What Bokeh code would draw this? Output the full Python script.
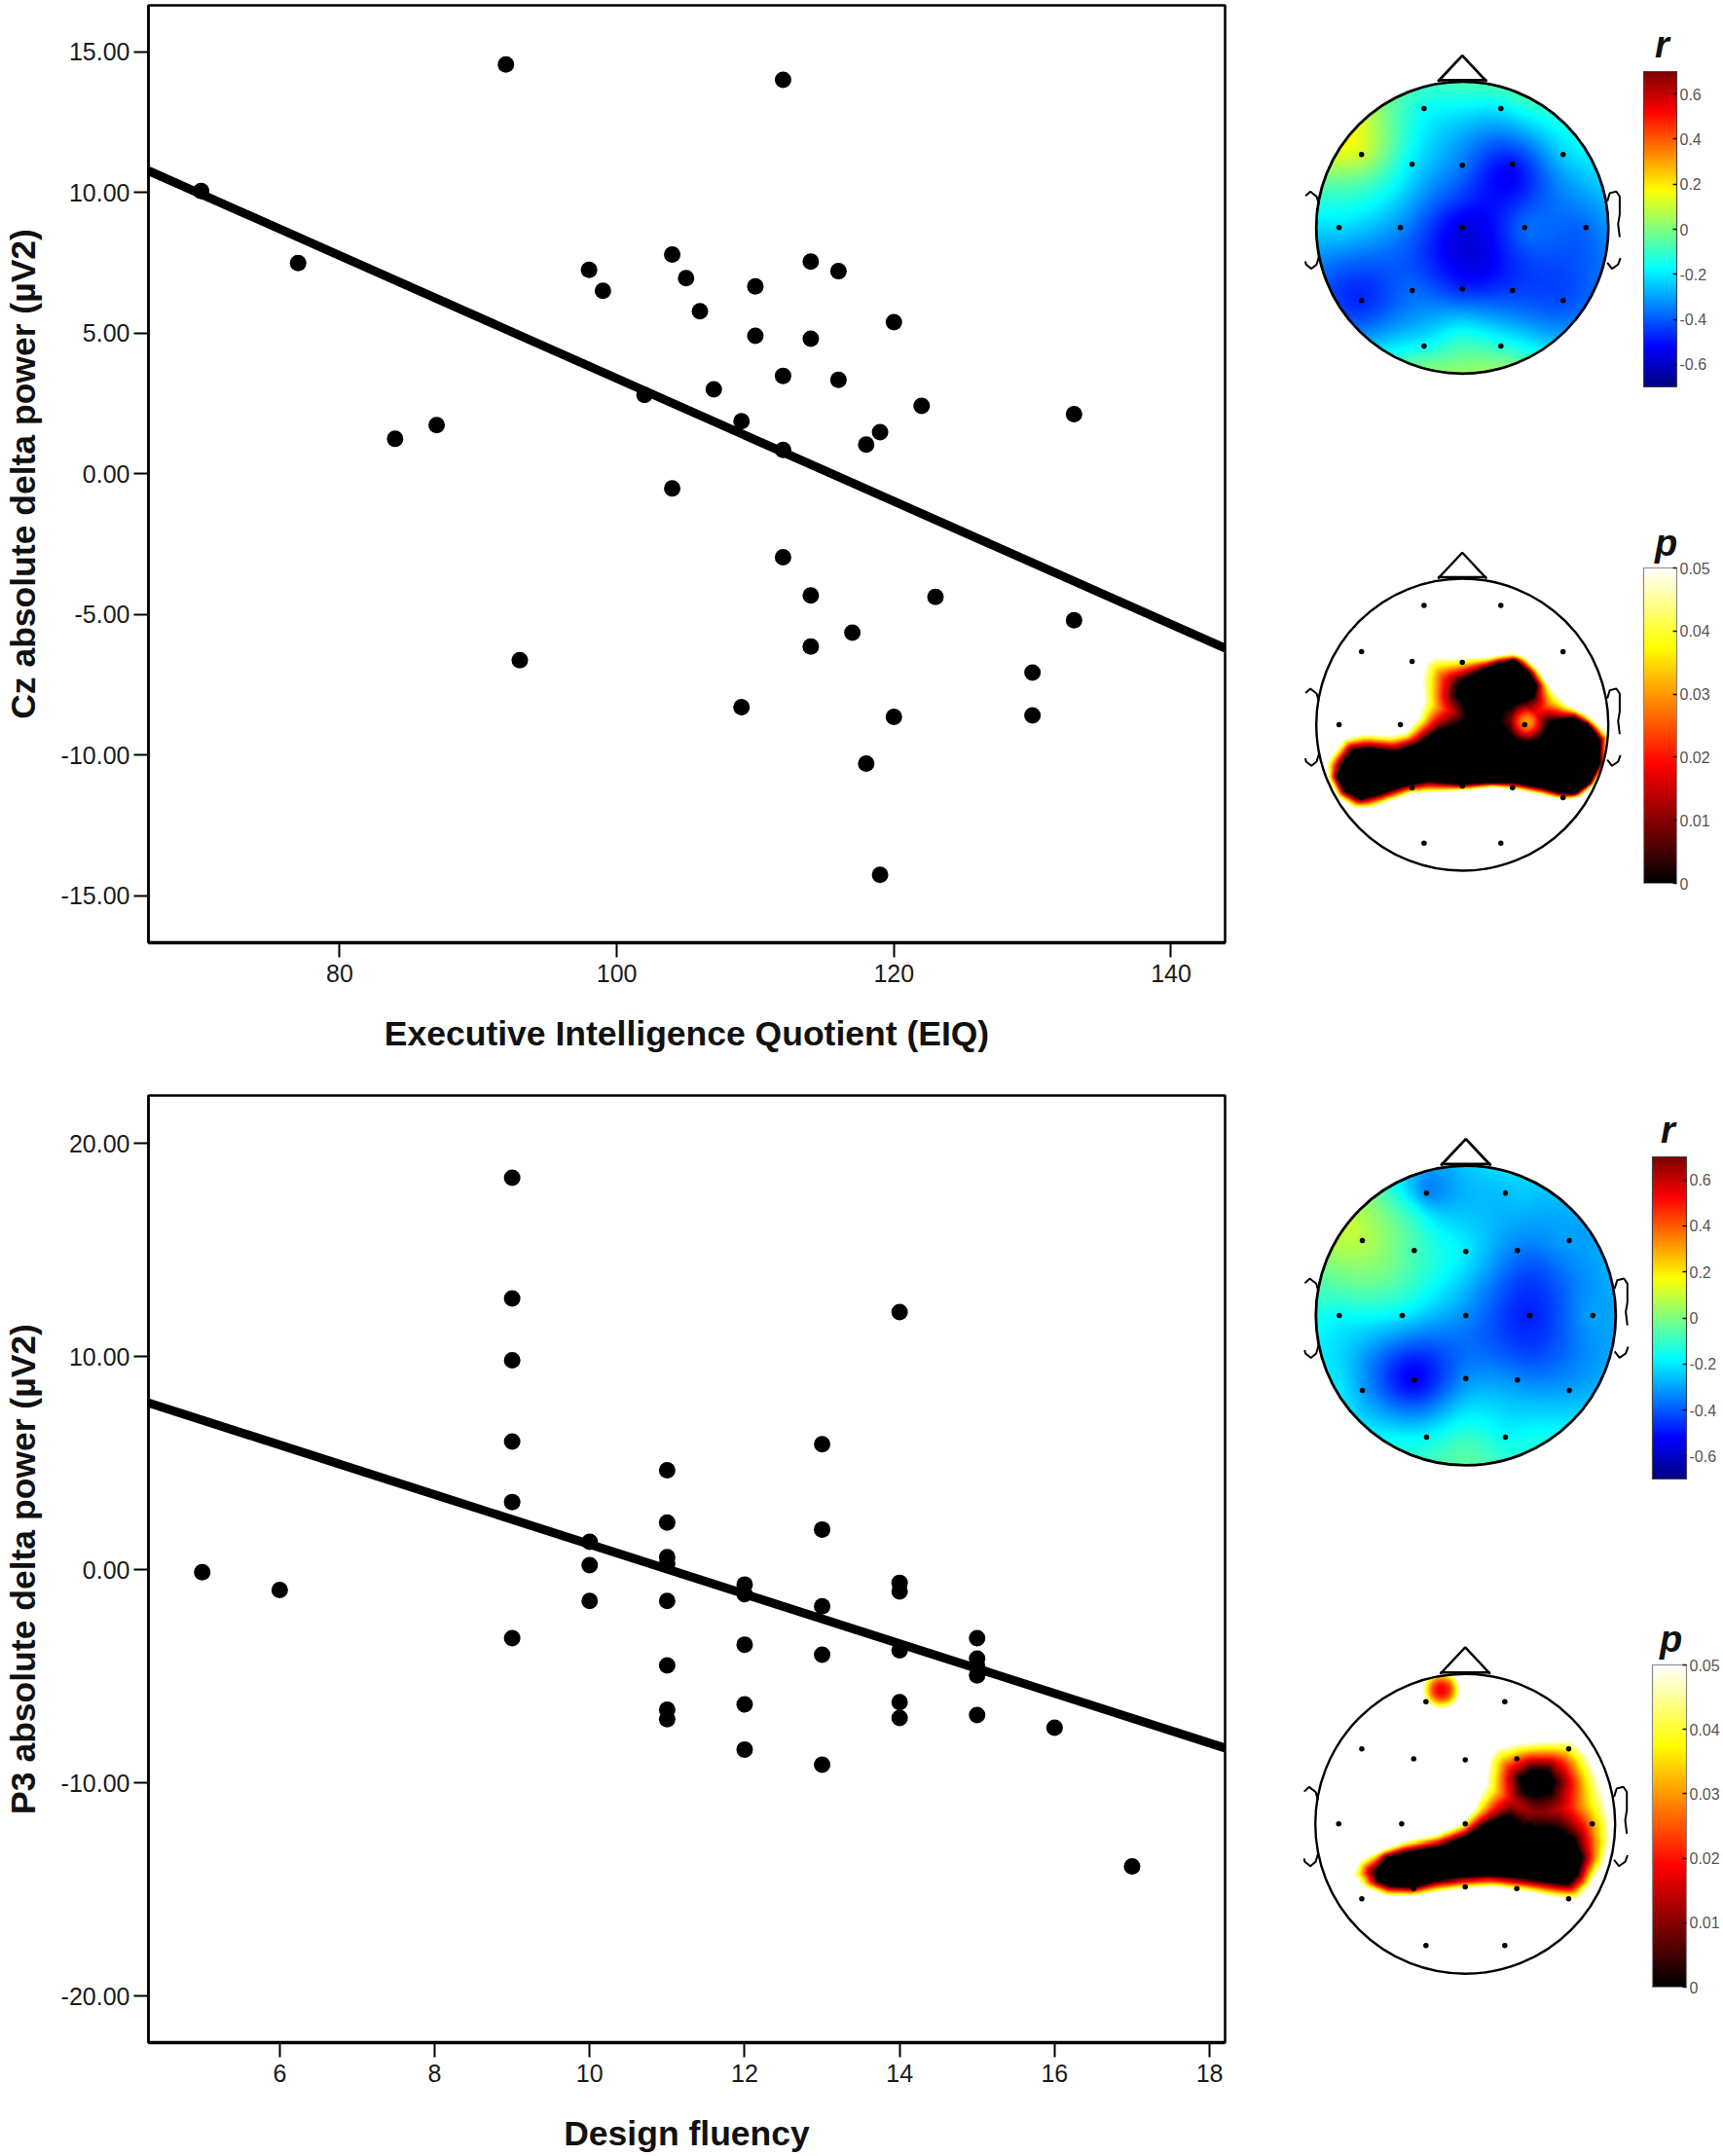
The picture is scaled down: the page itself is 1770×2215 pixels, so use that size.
import numpy as np
from bokeh.plotting import figure
from bokeh.layouts import column, row
from bokeh.models import (ColorBar, FixedTicker, LinearColorMapper, NumeralTickFormatter)
from bokeh.core.properties import value
from bokeh.embed import file_html
from bokeh.resources import INLINE

FONT = "Liberation Sans"

# ---------- scatter data ----------
EIQ = [70, 77, 84, 87, 92, 93, 98, 99, 102, 104, 104, 105, 106, 107, 109, 109, 110, 110, 112, 112, 112, 112,
       114, 114, 114, 114, 116, 116, 117, 118, 118, 119, 119, 120, 120, 122, 123, 130, 130, 133, 133]
CZ_POWER = [10.05, 7.49, 1.24, 1.73, 14.55, -6.63, 7.25, 6.5, 2.8, 7.79, -0.52, 6.95, 5.78, 3.0, 1.87, -8.3, 6.66, 4.9,
            14.0, 3.48, 0.85, -2.97, 7.54, 4.8, -4.33, -6.14, 7.2, 3.34, -5.65, 1.04, -10.3, 1.48, -14.26, 5.39, -8.64,
            2.41, -4.38, -7.07, -8.59, 2.12, -5.21]
EIQ_FIT_X = [66.2, 143.9]
EIQ_FIT_Y = [10.77, -6.2]

FLUENCY = [5, 6, 9, 9, 9, 9, 9, 9, 10, 10, 10, 11, 11, 11, 11, 11, 11, 11, 11, 12, 12, 12, 12, 12,
           13, 13, 13, 13, 13, 14, 14, 14, 14, 14, 14, 15, 15, 15, 15, 15, 16, 17]
P3_POWER = [-0.1, -0.94, 18.4, 12.74, 9.84, 6.03, 3.19, -3.2, 1.32, 0.23, -1.45, 4.68, 2.23, 0.6, 0.3, -1.45, -4.48,
            -6.55, -7.0, -0.68, -1.13, -3.5, -6.3, -8.42, 5.9, 1.9, -1.7, -3.97, -9.13, 12.1, -0.6, -1.0, -3.77, -6.2,
            -6.94, -3.2, -4.16, -4.5, -4.94, -6.8, -7.4, -13.9]
FLU_FIT_X = [4.306, 18.2]
FLU_FIT_Y = [7.84, -8.35]

# ---------- topographic data ----------
ELEC_U = [-.262, .264, -.69, -.344, 0, .344, .69, -.844, -.424, 0, .427, .847, -.69, -.344, 0, .344, .69, -.262, .264]
ELEC_V = [.816, .816, .5, .433, .427, .433, .5, 0, 0, 0, 0, 0, -.5, -.431, -.42, -.431, -.5, -.811, -.811]
R1_ELEC = [-.16, -.2, .1, -.2, -.36, -.5, -.24, -.22, -.33, -.56, -.38, -.38, -.47, -.38, -.47, -.44, -.42, -.17, -.13]
R1_EXTRA = [(0, .98, -.08), (.4, .88, -.1), (.75, .6, -.18), (.95, .2, -.28), (.97, 0, -.33), (.9, -.4, -.38),
            (.6, -.75, -.28), (.3, -.92, -.02), (0, -.98, .02), (-.3, -.92, -.05), (-.6, -.75, -.3), (-.9, -.4, -.42),
            (-.97, 0, -.22), (-.93, .3, -.05), (-.8, .58, .17), (-.5, .85, -.03), (-.52, .22, -.18), (-.68, .33, -.05),
            (0, -.2, -.56), (.1, -.25, -.56), (0, -.7, -.18), (.33, .37, -.53), (0, -.88, -.04), (0, .2, -.45)]
R2_ELEC = [-.33, -.26, .07, -.08, -.2, -.35, -.3, -.17, -.2, -.33, -.48, -.3, -.3, -.53, -.33, -.33, -.3, -.18, -.17]
R2_EXTRA = [(-.8, .58, .1), (-.5, .85, -.12), (0, .98, -.25), (.5, .85, -.25), (.8, .58, -.3), (.98, 0, -.3),
            (.85, -.5, -.28), (.5, -.85, -.14), (0, -.98, -.05), (-.5, -.85, -.16), (-.85, -.5, -.2), (-.98, 0, -.15),
            (-.93, .3, -.02), (-.5, .2, -.06), (-.75, .1, -.1), (-.1, .85, -.3), (.43, .3, -.42), (.43, -.3, -.41),
            (0, -.66, -.2), (-.34, .7, -.15), (-.55, .7, -.02), (.4, .8, -.25), (-.1, .25, -.2), (0, -.85, -.09)]

# outlines: (outer limit p=.05, core p=0), trace units
P1_TRACE = (605, 671, 450)
P1_OUTER = [(205, 760), (240, 715), (300, 700), (380, 705), (430, 695), (470, 650), (485, 600), (480, 530), (490, 480),
            (520, 462), (600, 465), (680, 462), (760, 450), (800, 462), (840, 500), (880, 560), (930, 610), (990, 640),
            (1030, 675), (1060, 710), (1050, 800), (1010, 860), (970, 895), (920, 905), (850, 890), (780, 875), (700, 865),
            (620, 875), (540, 880), (450, 885), (390, 905), (320, 930), (270, 930), (220, 895), (190, 840), (185, 790)]
P1_CORES = [[(235, 790), (265, 750), (320, 745), (400, 755), (470, 730), (530, 690), (590, 670), (620, 650), (610, 610),
             (585, 580), (595, 540), (650, 510), (720, 480), (770, 475), (810, 510), (835, 550), (825, 585), (780, 605),
             (735, 625), (720, 665), (755, 710), (800, 720), (845, 695), (880, 660), (950, 650), (1000, 680), (1030, 720),
             (1030, 790), (1000, 850), (950, 885), (900, 880), (850, 865), (760, 850), (680, 850), (600, 855), (500, 845),
             (420, 860), (350, 885), (290, 900), (240, 875), (218, 830)]]
P1_BUMP = (805, 662, 66, .03)
P2_TRACE = (614, 640, 463)
P2_OUTER = [(265, 800), (285, 755), (340, 725), (420, 695), (520, 675), (600, 640), (645, 590), (675, 520), (685, 440),
            (710, 405), (780, 390), (860, 382), (940, 380), (990, 420), (1020, 480), (1045, 560), (1062, 630), (1062, 700),
            (1040, 770), (1000, 835), (960, 875), (900, 870), (800, 850), (700, 835), (620, 840), (540, 850), (450, 865),
            (370, 865), (300, 835)]
P2_CORES = [[(335, 790), (370, 745), (450, 725), (540, 710), (620, 680), (690, 635), (750, 615), (800, 650), (900, 655),
             (950, 690), (975, 745), (960, 800), (930, 825), (850, 815), (760, 805), (680, 800), (600, 805), (520, 815),
             (450, 835), (380, 830), (340, 815)],
            [(785, 500), (820, 472), (870, 475), (890, 510), (875, 545), (830, 555), (795, 540)]]
P2_DIP = (540, 225, 58, .018)

NOSE_U = [-.167, 0, .167]
NOSE_V = [1.0, 1.178, 1.0]
EAR_U = [[-.982, -.998, -1.033, -1.04, -1.07, -1.07], [-.982, -.998, -1.033, -1.07, -1.075],
         [.993, 1.01, 1.055, 1.078, 1.078, 1.067, 1.078], [.993, 1.025, 1.067, 1.083]]
EAR_V = [[.16, .213, .24, .247, .22, .215], [-.2, -.253, -.282, -.253, -.231],
         [.18, .236, .247, .213, .09, .024, -.065], [-.24, -.282, -.253, -.209]]

R_TICKS = [-.6, -.4, -.2, 0, .2, .4, .6]
P_TICKS = [0, .01, .02, .03, .04, .05]


def jet():
    t = np.linspace(0, 1, 256)
    r = np.clip(np.minimum(4 * t - 1.5, -4 * t + 4.5), 0, 1)
    g = np.clip(np.minimum(4 * t - .5, -4 * t + 3.5), 0, 1)
    b = np.clip(np.minimum(4 * t + .5, -4 * t + 2.5), 0, 1)
    return ["#%02x%02x%02x" % (int(a * 255), int(c * 255), int(d * 255)) for a, c, d in zip(r, g, b)]


def hot():
    t = np.linspace(0, 1, 256)
    r = np.clip(t / .375, 0, 1)
    g = np.clip((t - .375) / .375, 0, 1)
    b = np.clip((t - .75) / .25, 0, 1)
    return ["#%02x%02x%02x" % (int(a * 255), int(c * 255), int(d * 255)) for a, c, d in zip(r, g, b)]


GRID = 300
gu, gv = np.meshgrid(np.linspace(-1, 1, GRID), np.linspace(-1, 1, GRID))
MASK = gu ** 2 + gv ** 2 > 1.0


def biharmonic(vals, extra):
    u = np.array(ELEC_U + [e[0] for e in extra])
    v = np.array(ELEC_V + [e[1] for e in extra])
    z = np.array(list(vals) + [e[2] for e in extra])

    def g(d):
        d = np.maximum(d, 1e-9)
        return d ** 2 * (np.log(d) - 1)

    A = g(np.hypot(u[:, None] - u[None, :], v[:, None] - v[None, :]))
    w = np.linalg.solve(A, z)
    out = np.zeros_like(gu)
    for a, b, c in zip(u, v, w):
        out += c * g(np.hypot(gu - a, gv - b))
    out[MASK] = np.nan
    return out


def poly_dist(poly):
    xs, ys = poly[:, 0], poly[:, 1]
    xe, ye = np.roll(xs, -1), np.roll(ys, -1)
    best = np.full(gu.shape, np.inf)
    inside = np.zeros(gu.shape, bool)
    for a, b, c, d in zip(xs, ys, xe, ye):
        dx, dy = c - a, d - b
        t = np.clip(((gu - a) * dx + (gv - b) * dy) / (dx * dx + dy * dy), 0, 1)
        best = np.minimum(best, np.hypot(gu - a - t * dx, gv - b - t * dy))
        cross = ((b > gv) != (d > gv)) & (gu < a + (gv - b) * dx / (dy if dy != 0 else 1e-12))
        inside ^= cross
    return best, inside


def p_field(trace, outer, cores, bump=None, dip=None):
    cx, cy, R = trace
    norm = lambda pts: np.array([((x - cx) / R, (cy - y) / R) for x, y in pts])
    do, io = poly_dist(norm(outer))
    d_out = np.where(io, do, 0.0)
    d_core = np.full(gu.shape, np.inf)
    for core in cores:
        dc, ic = poly_dist(norm(core))
        d_core = np.minimum(d_core, np.where(ic, 0.0, dc))
    t = d_core / np.maximum(d_core + d_out, 1e-9)
    out = .05 * t
    if bump:
        r = np.hypot(gu - (bump[0] - cx) / R, gv - (cy - bump[1]) / R) / (bump[2] / R)
        out = np.maximum(out, bump[3] * np.clip(1 - r ** 2, 0, 1) ** 1.5)
    if dip:
        r = np.hypot(gu - (dip[0] - cx) / R, gv - (cy - dip[1]) / R) / (dip[2] / R)
        out = np.minimum(out, dip[3] + (.05 - dip[3]) * np.clip(r, 0, 1) ** 2)
    out[MASK] = np.nan
    return out


def scatter(xs, ys, fit_x, fit_y, xr, yr, xticks, yticks, xlabel, ylabel, w, h, bl, br, bt, bb, xstand, ystand):
    p = figure(width=w, height=h, x_range=xr, y_range=yr, output_backend="svg", toolbar_location=None,
               min_border_left=bl, min_border_right=br, min_border_top=bt, min_border_bottom=bb,
               background_fill_color="white", border_fill_color="white")
    p.grid.visible = False
    p.outline_line_color = "#000000"
    p.outline_line_width = 2.5
    p.line(fit_x, fit_y, line_color="black", line_width=9)
    p.scatter(xs, ys, size=17, fill_color="black", line_color="black", line_width=0)
    for ax, ticks in ((p.xaxis[0], xticks), (p.yaxis[0], yticks)):
        ax.ticker = FixedTicker(ticks=ticks)
        ax.major_tick_in = 0
        ax.major_tick_out = 15
        ax.minor_tick_out = 0
        ax.minor_tick_in = 0
        ax.major_tick_line_width = 2
        ax.major_tick_line_color = "black"
        ax.axis_line_color = "black"
        ax.major_label_text_font = FONT
        ax.major_label_text_font_size = "25px"
        ax.major_label_text_color = "#1a1a1a"
        ax.axis_label_text_font = FONT
        ax.axis_label_text_font_style = "bold"
        ax.axis_label_text_color = "#111111"
        ax.axis_label_text_font_size = "35.5px"
    p.xaxis[0].axis_line_width = 3.5
    p.yaxis[0].axis_line_width = 2.5
    p.xaxis[0].major_label_standoff = 7
    p.yaxis[0].major_label_standoff = 4
    p.yaxis[0].formatter = NumeralTickFormatter(format="0.00")
    p.xaxis[0].axis_label = xlabel
    p.yaxis[0].axis_label = ylabel
    p.xaxis[0].axis_label_standoff = xstand
    p.yaxis[0].axis_label_standoff = ystand
    return p


def head(field, cx, cy, R, y0, y1, palette, low, high, ticks, bar_x, bar_top, bar_w, bar_h, sym, sym_x, sym_y, line_w, bar_line):
    X0, X1 = 1300, 1770
    p = figure(width=X1 - X0, height=y1 - y0, x_range=((X0 - cx) / R, (X1 - cx) / R),
               y_range=((cy - y1) / R, (cy - y0) / R), output_backend="svg", toolbar_location=None,
               min_border=0, x_axis_location=None, y_axis_location=None)
    p.grid.visible = False
    p.outline_line_color = None
    mapper = LinearColorMapper(palette=palette, low=low, high=high, nan_color=(0, 0, 0, 0))
    p.image(image=[field], x=-1, y=-1, dw=2, dh=2, color_mapper=mapper)
    p.circle(x=[0], y=[0], radius=1, fill_color=None, line_color="black", line_width=line_w)
    p.line(NOSE_U, NOSE_V, line_color="black", line_width=line_w)
    p.line([NOSE_U[0], NOSE_U[2]], [1.01, 1.01], line_color="black", line_width=line_w)
    p.multi_line(EAR_U, EAR_V, line_color="black", line_width=2)
    p.scatter(ELEC_U, ELEC_V, size=5.5, fill_color="black", line_width=0)
    p.text([(sym_x - cx) / R], [(cy - sym_y) / R], text=[sym], text_font=value(FONT), text_font_style="bold italic",
           text_font_size="38px", text_align="center", text_baseline="middle", text_color="#111111")
    over = {}
    for t in ticks:
        over[t] = ("%g" % t)
    cb = ColorBar(color_mapper=mapper, ticker=FixedTicker(ticks=ticks), major_label_overrides=over,
                  location=(bar_x - X0, y1 - (bar_top + bar_h)), width=bar_w, height=bar_h, padding=0,
                  major_tick_in=4, major_tick_line_color="#111111", major_tick_line_width=1.5,
                  minor_tick_line_color=None, bar_line_color=bar_line, bar_line_width=1.2,
                  border_line_color=None, background_fill_alpha=0, label_standoff=3,
                  major_label_text_font=FONT, major_label_text_font_size="16px", major_label_text_color="#555555")
    p.add_layout(cb, "center")
    return p


JET = jet()
HOT = hot()

s1 = scatter(EIQ, CZ_POWER, EIQ_FIT_X, EIQ_FIT_Y, (66.2, 143.9), (-16.67, 16.65), [80, 100, 120, 140],
             [-15, -10, -5, 0, 5, 10, 15], "Executive Intelligence Quotient (EIQ)", "Cz absolute delta power (µV2)",
             1300, 1105, 151, 42, 5, 137, 30, 16)
s2 = scatter(FLUENCY, P3_POWER, FLU_FIT_X, FLU_FIT_Y, (4.306, 18.2), (-22.17, 22.26), [6, 8, 10, 12, 14, 16, 18],
             [-20, -10, 0, 10, 20], "Design fluency", "P3 absolute delta power (µV2)",
             1300, 1110, 152, 42, 20, 117, 30, 16)

h1 = head(biharmonic(R1_ELEC, R1_EXTRA), 1501.7, 233.3, 150, 0, 480, JET, -.7, .7, R_TICKS,
          1688, 73, 34, 324, "r", 1707, 45, 2.8, "#444444")
h2 = head(p_field(P1_TRACE, P1_OUTER, P1_CORES, bump=P1_BUMP), 1501.7, 744, 150, 480, 1105, HOT, 0, .05, P_TICKS,
          1688, 583, 34, 324, "p", 1711, 557, 2.4, "#888888")
h3 = head(biharmonic(R2_ELEC, R2_EXTRA), 1505.3, 1351, 154, 1105, 1590, JET, -.7, .7, R_TICKS,
          1697, 1188, 35, 331, "r", 1713, 1160, 2.8, "#444444")
h4 = head(p_field(P2_TRACE, P2_OUTER, P2_CORES, dip=P2_DIP), 1504.7, 1873.3, 154, 1590, 2215, HOT, 0, .05, P_TICKS,
          1697, 1710, 35, 331, "p", 1716, 1683, 2.4, "#888888")

root = column(row(s1, column(h1, h2, spacing=0), spacing=0), row(s2, column(h3, h4, spacing=0), spacing=0), spacing=0)

open("out.html", "w").write(file_html(root, INLINE))
